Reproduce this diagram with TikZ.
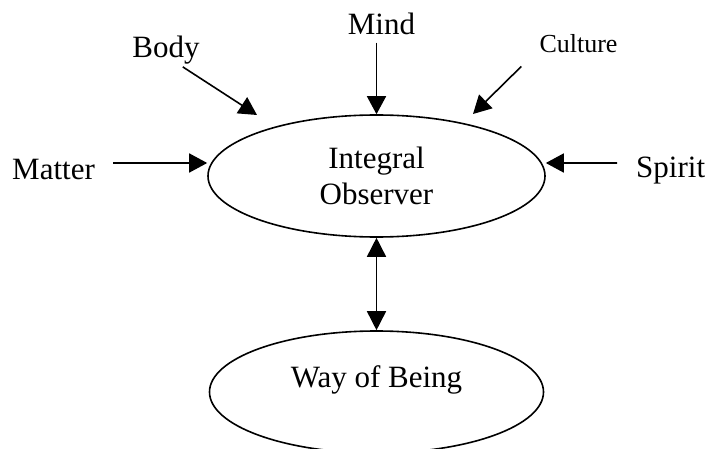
\documentclass[tikz,border=0pt]{standalone}
\usepackage{fontspec}
\setmainfont{Liberation Serif}
\usetikzlibrary{arrows.meta,positioning,calc,shapes.geometric}
\tikzset{
  oval/.style={draw, ellipse, line width=1.6pt, inner sep=0pt, align=center, font=\fontsize{31}{36}\selectfont},
  lbl/.style={inner sep=0pt, font=\fontsize{31}{36}\selectfont},
  lblsm/.style={lbl, font=\fontsize{26}{30}\selectfont},
  arr/.style={-{Triangle[length=18pt,width=19pt]}, line width=1.6pt},
  darr/.style={{Triangle[length=19pt,width=19pt]}-{Triangle[length=19pt,width=19pt]}, line width=1.6pt},
}

\begin{document}
\begin{tikzpicture}[x=1pt,y=-1pt]
\useasboundingbox (0,0) rectangle (709,449);
\node[oval, minimum width=337pt, minimum height=122pt] (obs) at (376.5,176) {Integral\\Observer};
\node[oval, minimum width=334pt, minimum height=122pt, text height=20pt, text depth=30pt] (way) at (376.5,392) {Way of Being};
\node[lbl, anchor=base] (mind) at (381.5,35) {Mind};
\node[lbl, anchor=base] (body) at (166,58) {Body};
\node[lblsm, anchor=base] (culture) at (578.5,53) {Culture};
\node[lbl, anchor=base west] (matter) at (12,179) {Matter};
\node[lbl, anchor=base west] (spirit) at (636,178) {Spirit};
% free ends just above the oval
\coordinate (bodyin) at (257,115);
\coordinate (cultin) at (473,114);
\draw[arr] ([xshift=-5pt,yshift=-7pt]mind.south) -- (obs.north);
\draw[arr] ([xshift=-17pt,yshift=-2pt]body.south east) -- (bodyin);
\draw[arr] ([xshift=-18pt,yshift=-13pt]culture.south west) -- (cultin);
\draw[arr] ([xshift=18pt,yshift=6pt]matter.east) -- ([yshift=13pt]obs.west);
\draw[arr] ([xshift=-19pt,yshift=8pt]spirit.west) -- ([yshift=13pt]obs.east);
\draw[darr] (obs.south) -- (way.north);
\end{tikzpicture}
\end{document}
